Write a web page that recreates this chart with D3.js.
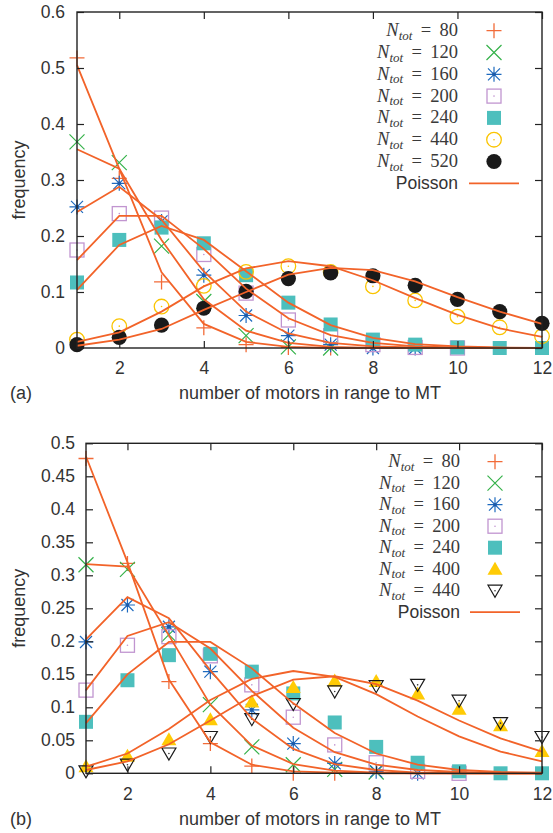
<!DOCTYPE html>
<html>
<head>
<meta charset="utf-8">
<script src="https://cdn.jsdelivr.net/npm/d3@7"></script>
<style>
  body { margin: 0; background: #fff; }
  text { font-family: "Liberation Sans", Arial, sans-serif; fill: #333; }
  text.math { font-family: "Liberation Serif", "Times New Roman", serif; fill: #3a3a3a; }
</style>
</head>
<body>
<svg id="chart" width="553" height="833"></svg>
<script>
// number of motors (x categories)
const motors = [1, 2, 3, 4, 5, 6, 7, 8, 9, 10, 11, 12]
const xTicks = [2, 4, 6, 8, 10, 12]
const yTicksA = [0, 0.1, 0.2, 0.3, 0.4, 0.5, 0.6]
const yTicksB = [0, 0.05, 0.1, 0.15, 0.2, 0.25, 0.3, 0.35, 0.4, 0.45, 0.5]

const nTotA = ['80', '120', '160', '200', '240', '440', '520']
const nTotB = ['80', '120', '160', '200', '240', '400', '440']

// panel (a) measured frequencies
const a80 = [0.518, 0.303, 0.118, 0.036, 0.006, 0.001, 0]
const a120 = [0.368, 0.331, 0.182, 0.083, 0.022, 0.002, 0]
const a160 = [0.252, 0.294, 0.226, 0.130, 0.058, 0.022, 0.006, 0, 0]
const a200 = [0.175, 0.240, 0.232, 0.167, 0.098, 0.050, 0.022, 0.006, 0.001, 0]
const a240 = [0.117, 0.193, 0.215, 0.187, 0.130, 0.081, 0.042, 0.015, 0.006, 0.001, 0, 0]
const a440 = [0.015, 0.039, 0.074, 0.111, 0.136, 0.146, 0.136, 0.110, 0.085, 0.056, 0.037, 0.021]
const a520 = [0.006, 0.019, 0.041, 0.071, 0.101, 0.124, 0.134, 0.129, 0.112, 0.087, 0.065, 0.044]

// panel (a) Poisson curves
const aP80 = [0.505, 0.320, 0.135, 0.043, 0.011, 0.002, 0, 0, 0, 0, 0, 0]
const aP120 = [0.355, 0.320, 0.193, 0.087, 0.031, 0.009, 0.002, 0, 0, 0, 0, 0]
const aP160 = [0.243, 0.288, 0.229, 0.137, 0.065, 0.026, 0.009, 0.003, 0.001, 0, 0, 0]
const aP200 = [0.157, 0.236, 0.236, 0.177, 0.106, 0.053, 0.023, 0.009, 0.003, 0.001, 0, 0]
const aP240 = [0.104, 0.184, 0.218, 0.193, 0.137, 0.081, 0.041, 0.018, 0.007, 0.003, 0.001, 0]
const aP440 = [0.011, 0.028, 0.065, 0.110, 0.142, 0.155, 0.146, 0.121, 0.089, 0.059, 0.035, 0.020]
const aP520 = [0.004, 0.015, 0.034, 0.068, 0.100, 0.131, 0.143, 0.139, 0.119, 0.091, 0.065, 0.043]

// panel (b) measured frequencies
const b80 = [0.477, 0.318, 0.139, 0.045, 0.011, 0, 0]
const b120 = [0.316, 0.309, 0.210, 0.104, 0.040, 0.013, 0.006, 0.002]
const b160 = [0.199, 0.255, 0.222, 0.154, 0.096, 0.045, 0.015, 0.003, 0]
const b200 = [0.126, 0.194, 0.207, 0.178, 0.134, 0.085, 0.043, 0.016, 0.003, 0]
const b240 = [0.078, 0.141, 0.179, 0.181, 0.154, 0.121, 0.077, 0.040, 0.016, 0.003, 0, 0]
const b400 = [0.010, 0.026, 0.051, 0.081, 0.108, 0.130, 0.140, 0.139, 0.120, 0.097, 0.072, 0.033]
const b440 = [0.003, 0.013, 0.030, 0.055, 0.082, 0.105, 0.124, 0.132, 0.134, 0.110, 0.076, 0.055]

// panel (b) Poisson curves
const bP80 = [0.480, 0.320, 0.142, 0.047, 0.013, 0.003, 0.001, 0, 0, 0, 0, 0]
const bP120 = [0.317, 0.313, 0.209, 0.104, 0.042, 0.014, 0.004, 0.001, 0, 0, 0, 0]
const bP160 = [0.203, 0.267, 0.235, 0.156, 0.083, 0.037, 0.014, 0.005, 0.001, 0, 0, 0]
const bP200 = [0.126, 0.208, 0.229, 0.189, 0.125, 0.069, 0.032, 0.013, 0.005, 0.002, 0, 0]
const bP240 = [0.076, 0.150, 0.199, 0.199, 0.159, 0.106, 0.061, 0.030, 0.013, 0.005, 0.002, 0.001]
const bP400 = [0.010, 0.030, 0.067, 0.111, 0.143, 0.155, 0.146, 0.120, 0.086, 0.056, 0.033, 0.018]
const bP440 = [0.005, 0.018, 0.044, 0.080, 0.117, 0.142, 0.147, 0.135, 0.110, 0.080, 0.053, 0.033]

const lineColor = '#f26329'

const svg = d3.select('#chart')

// gnuplot style point types
function drawMarker(g, type, cx, cy) {
    const m = g.append('g').attr('transform', `translate(${cx},${cy})`)
    if (type === 'plus') {
        m.append('path').attr('d', 'M-7.5,0H7.5M0,-7.5V7.5')
            .attr('stroke', '#f26b38').attr('stroke-width', 1.3).attr('fill', 'none')
    } else if (type === 'cross') {
        m.append('path').attr('d', 'M-7.5,-7.5L7.5,7.5M-7.5,7.5L7.5,-7.5')
            .attr('stroke', '#35b24a').attr('stroke-width', 1.2).attr('fill', 'none')
    } else if (type === 'star') {
        m.append('path').attr('d', 'M-7.5,0H7.5M0,-7.5V7.5M-6,-6L6,6M-6,6L6,-6')
            .attr('stroke', '#1d6abf').attr('stroke-width', 1.2).attr('fill', 'none')
        m.append('circle').attr('r', 1.8).attr('fill', '#1d5aa8')
    } else if (type === 'box') {
        m.append('rect').attr('x', -7).attr('y', -7).attr('width', 14).attr('height', 14)
            .attr('stroke', '#c195d0').attr('stroke-width', 1.3).attr('fill', 'none')
        m.append('circle').attr('r', 0.8).attr('fill', '#c195d0')
    } else if (type === 'fbox') {
        m.append('rect').attr('x', -7).attr('y', -7).attr('width', 14).attr('height', 14)
            .attr('fill', '#4dbfbd')
    } else if (type === 'circle') {
        m.append('circle').attr('r', 7.3)
            .attr('stroke', '#fac400').attr('stroke-width', 1.3).attr('fill', 'none')
        m.append('circle').attr('r', 0.8).attr('fill', '#fac400')
    } else if (type === 'fcircle') {
        m.append('circle').attr('r', 7.6).attr('fill', '#1a1a1a')
    } else if (type === 'ftri') {
        m.append('path').attr('d', 'M0,-7.5L7.5,5.5L-7.5,5.5Z').attr('fill', '#ffcb05')
    } else if (type === 'dtri') {
        m.append('path').attr('d', 'M-7,-5.5L7,-5.5L0,6.5Z')
            .attr('stroke', '#1a1a1a').attr('stroke-width', 1.2).attr('fill', 'none')
        m.append('circle').attr('r', 0.8).attr('fill', '#333')
    }
}

function drawPanel(p) {
    const x = d3.scaleLinear().domain([1, 12]).range([p.left, p.right])
    const y = d3.scaleLinear().domain([0, p.yMax]).range([p.bottom, p.top])
    const g = svg.append('g')

    // data points
    p.series.forEach(s => {
        s.values.forEach((v, j) => drawMarker(g, s.marker, x(motors[j]), y(v)))
    })

    // poisson curves on top
    const line = d3.line()
        .x((d, j) => x(motors[j]))
        .y(d => y(d))
    p.poisson.forEach(arr => {
        g.append('path')
            .attr('d', line(arr))
            .attr('fill', 'none')
            .attr('stroke', lineColor)
            .attr('stroke-width', 1.8)
    })

    // axes, gnuplot-like: ticks inside on all sides
    const bottomAxis = d3.axisBottom(x).tickValues(xTicks).tickSizeInner(-7).tickSizeOuter(0).tickPadding(14)
    const topAxis = d3.axisTop(x).tickValues(xTicks).tickSizeInner(-7).tickSizeOuter(0).tickFormat('')
    const leftAxis = d3.axisLeft(y).tickValues(p.yTicks).tickSizeInner(-7).tickSizeOuter(0).tickPadding(p.yPad).tickFormat(d => d)
    const rightAxis = d3.axisRight(y).tickValues(p.yTicks).tickSizeInner(-7).tickSizeOuter(0).tickFormat('')

    const axes = [
        [bottomAxis, `translate(0,${p.bottom})`],
        [topAxis, `translate(0,${p.top})`],
        [leftAxis, `translate(${p.left},0)`],
        [rightAxis, `translate(${p.right},0)`]
    ]
    axes.forEach(([ax, tr]) => {
        const a = g.append('g').attr('transform', tr).call(ax)
        a.select('.domain').remove()
        a.selectAll('line').attr('stroke', '#222').attr('stroke-width', 1.2)
        a.selectAll('text').attr('font-size', 17.5).attr('fill', '#333')
    })

    // frame
    g.append('rect')
        .attr('x', p.left).attr('y', p.top)
        .attr('width', p.right - p.left).attr('height', p.bottom - p.top)
        .attr('fill', 'none').attr('stroke', '#222').attr('stroke-width', 1.4)

    // axis titles
    g.append('text')
        .attr('x', 310).attr('y', p.bottom + 45)
        .attr('dy', '0.35em')
        .attr('text-anchor', 'middle')
        .attr('font-size', 18)
        .text('number of motors in range to MT')
    g.append('text')
        .attr('x', 10).attr('y', p.bottom + 45)
        .attr('dy', '0.35em')
        .attr('font-size', 18)
        .text(p.tag)
    g.append('text')
        .attr('transform', `translate(19,${(p.top + p.bottom) / 2}) rotate(-90)`)
        .attr('dy', '0.35em')
        .attr('text-anchor', 'middle')
        .attr('font-size', 18)
        .text('frequency')

    // legend
    const lg = g.append('g')
    p.series.forEach((s, i) => {
        const ly = p.legendTop + i * p.legendStep
        const t = lg.append('text')
            .attr('class', 'math')
            .attr('x', p.legendTextX).attr('y', ly)
            .attr('dy', '0.3em')
            .attr('text-anchor', 'end')
            .attr('font-size', 18.5)
        t.append('tspan').style('font-style', 'italic').text('N')
        t.append('tspan').style('font-style', 'italic').attr('font-size', 13).attr('dy', 3.5).text('tot')
        t.append('tspan').attr('dy', -3.5).text('\u2009\u00a0=\u00a0\u2009' + s.label)
        drawMarker(lg, s.marker, p.legendMarkX, ly)
    })
    const py = p.legendTop + p.series.length * p.legendStep
    lg.append('text')
        .attr('x', p.legendTextX).attr('y', py)
        .attr('dy', '0.35em')
        .attr('text-anchor', 'end')
        .attr('font-size', 17.5)
        .text('Poisson')
    lg.append('line')
        .attr('x1', p.legendMarkX - 25).attr('x2', p.legendMarkX + 25)
        .attr('y1', py).attr('y2', py)
        .attr('stroke', lineColor).attr('stroke-width', 1.8)
}

const markersA = ['plus', 'cross', 'star', 'box', 'fbox', 'circle', 'fcircle']
const markersB = ['plus', 'cross', 'star', 'box', 'fbox', 'ftri', 'dtri']

drawPanel({
    left: 77, right: 542, top: 12, bottom: 348, yMax: 0.6,
    yTicks: yTicksA, yPad: 12, tag: '(a)',
    legendTop: 30.7, legendStep: 21.8, legendTextX: 458, legendMarkX: 494,
    series: [a80, a120, a160, a200, a240, a440, a520].map((v, i) => ({ values: v, label: nTotA[i], marker: markersA[i] })),
    poisson: [aP80, aP120, aP160, aP200, aP240, aP440, aP520]
})

drawPanel({
    left: 86, right: 542, top: 443.3, bottom: 773.3, yMax: 0.5,
    yTicks: yTicksB, yPad: 11, tag: '(b)',
    legendTop: 461.7, legendStep: 21.5, legendTextX: 460, legendMarkX: 495,
    series: [b80, b120, b160, b200, b240, b400, b440].map((v, i) => ({ values: v, label: nTotB[i], marker: markersB[i] })),
    poisson: [bP80, bP120, bP160, bP200, bP240, bP400, bP440]
})
</script>
</body>
</html>
